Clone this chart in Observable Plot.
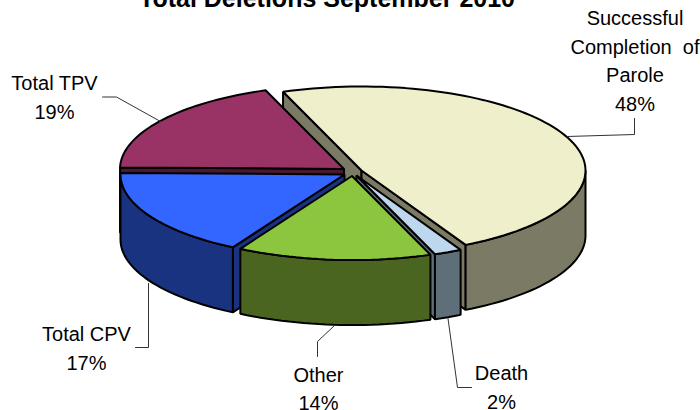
<!DOCTYPE html>
<html><head><meta charset="utf-8">
<style>html,body{margin:0;padding:0;background:#fff}svg{display:block}</style>
<script src="https://cdn.jsdelivr.net/npm/d3@7"></script>
<script src="https://cdn.jsdelivr.net/npm/@observablehq/plot@0.6"></script>
</head><body><script>
// Data, clockwise from the pie's starting angle
const categories = ["Successful\nCompletion\u00a0\u00a0of\nParole", "Death", "Other", "Total CPV", "Total TPV"];
const shares = [48, 2, 14, 17, 19];
const chartTitle = "Total Deletions September 2010";

// Styles
const topColors  = ["#EFEFCC", "#BDD7EE", "#8CC63F", "#3366FF", "#993366"];
const sideColors = ["#7B7B65", "#5F6F7A", "#4A6520", "#1A3380", "#4A1830"];

// Layout (pixel space of the 700x410 frame)
const startAngle = -20.5, rx = 224, ry = 84, depth = 65;
const centers = [[361,170],[356,175],[351.5,175.5],[344,174],[343.5,168.5]];
const labelAt = [[634.5,4.5],[501,359.5],[318,361],[86,320.5],[54,69.5]];
const leaders = [
  [[567,136],[634,134],[634,118]],
  [[447.5,318],[457,387],[471,387]],
  [[334,325],[317,341],[317,356]],
  [[148,283],[148,347],[135,347]],
  [[160,121],[116,96.5],[102,96.5]]
];
const drawOrder = [0, 4, 3, 1, 2];

// Slice geometry derived from the shares
const total = d3.sum(shares);
let acc = startAngle;
const slices = shares.map((v, i) => {
  const a0 = acc, a1 = acc + v / total * 360; acc = a1;
  return {i, a0, a1, c: centers[i]};
});
const rad = d => d * Math.PI / 180;
const pt = (c, a, dz = 0) => ({x: c[0] + rx * Math.sin(rad(a)), y: c[1] - ry * Math.cos(rad(a)) + dz});
const arc = (c, a0, a1, dz = 0) => {
  const n = Math.max(2, Math.ceil(Math.abs(a1 - a0) / 2));
  return d3.range(n + 1).map(k => pt(c, a0 + (a1 - a0) * k / n, dz));
};
const polys = [];
for (const idx of drawOrder) {
  const {a0, a1, c, i} = slices[idx];
  const apex = {x: c[0], y: c[1]}, apexLow = {x: c[0], y: c[1] + depth};
  if (Math.sin(rad(a0)) < 0) polys.push({pts: [apex, pt(c, a0), pt(c, a0, depth), apexLow], fill: sideColors[i]});
  if (Math.sin(rad(a1)) > 0) polys.push({pts: [apex, pt(c, a1), pt(c, a1, depth), apexLow], fill: sideColors[i]});
  const f0 = Math.max(a0, 90), f1 = Math.min(a1, 270);
  if (f1 > f0) polys.push({pts: [...arc(c, f0, f1), ...arc(c, f1, f0, depth)], fill: sideColors[i]});
  polys.push({pts: [apex, ...arc(c, a0, a1)], fill: topColors[i]});
}

const labels = categories.map((name, i) => ({text: `${name}\n${shares[i]}%`, x: labelAt[i][0], y: labelAt[i][1]}));

const chart = Plot.plot({
  width: 700, height: 410, margin: 0,
  style: {background: "#fff", overflow: "hidden"},
  x: {domain: [0, 700], range: [0, 700], axis: null},
  y: {domain: [0, 410], range: [0, 410], axis: null},
  marks: [
    ...polys.map(p => Plot.line(p.pts, {x: "x", y: "y", fill: p.fill, stroke: "#000", strokeWidth: 2, curve: "linear-closed", strokeLinejoin: "miter"})),
    ...leaders.map(l => Plot.line(l, {x: d => d[0], y: d => d[1], stroke: "#333", strokeWidth: 1})),
    Plot.text(labels, {x: "x", y: "y", text: "text", fontFamily: "Liberation Sans", fontSize: 20, lineHeight: 1.425, fill: "#000", textAnchor: "middle", lineAnchor: "top"}),
    Plot.text([chartTitle], {x: () => 326.5, y: () => 6, text: d => d, fontFamily: "Liberation Sans", fontWeight: "bold", fontSize: 25, fill: "#000", textAnchor: "middle", lineAnchor: "bottom"})
  ]
});
document.body.appendChild(chart);
</script></body></html>
